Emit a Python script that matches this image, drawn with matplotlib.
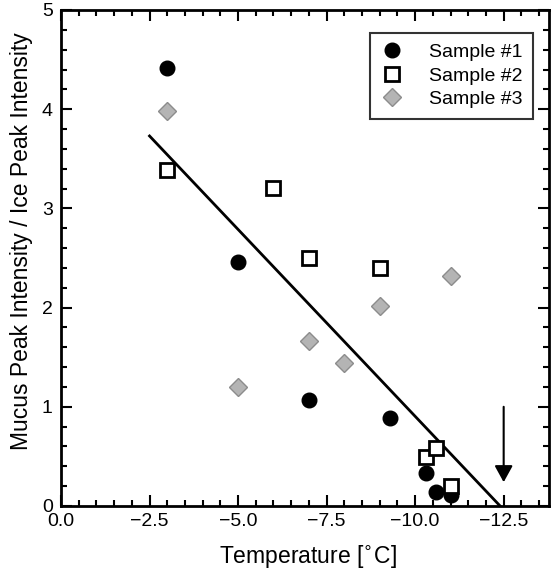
import numpy as np
import matplotlib
matplotlib.use("Agg")
import matplotlib.pyplot as plt
from matplotlib.ticker import MultipleLocator, FuncFormatter

plt.rcParams['font.family'] = ['Liberation Sans', 'DejaVu Sans']

# --- data ---
s1_temp = [-3.0, -5.0, -7.0, -9.3, -10.3, -10.6, -11.0]
s1_ratio = [4.42, 2.46, 1.07, 0.89, 0.33, 0.14, 0.11]

s2_temp = [-3.0, -6.0, -7.0, -9.0, -10.3, -10.6, -11.0]
s2_ratio = [3.39, 3.21, 2.50, 2.40, 0.49, 0.58, 0.20]

s3_temp = [-3.0, -5.0, -7.0, -8.0, -9.0, -11.0]
s3_ratio = [3.98, 1.20, 1.66, 1.44, 2.02, 2.32]

# linear fit line end points
fit_temp = [-2.5, -12.4]
fit_ratio = [3.73, 0.0]

# arrow marking the extrapolated temperature
arrow_temp = -12.5
arrow_from = 1.0
arrow_to = 0.24

W, H = 556, 574
fig = plt.figure(figsize=(W / 100, H / 100), dpi=100)
ax = fig.add_axes([61 / W, 68 / H, 488 / W, 496 / H])

ax.plot(fit_temp, fit_ratio, color='black', lw=2, zorder=2)

ax.plot(s1_temp, s1_ratio, 'o', ms=10.5, mfc='black', mec='black', ls='none',
        label='Sample #1', zorder=3)
ax.plot(s2_temp, s2_ratio, 's', ms=10, mfc='white', mec='black', mew=2, ls='none',
        label='Sample #2', zorder=3)
ax.plot(s3_temp, s3_ratio, 'D', ms=9.5, mfc='#b4b4b4', mec='#8c8c8c', mew=1, ls='none',
        label='Sample #3', zorder=3)

ax.annotate('', xy=(arrow_temp, arrow_to), xytext=(arrow_temp, arrow_from),
            arrowprops=dict(arrowstyle='-|>,head_length=1.0,head_width=0.55',
                            color='black', lw=1.5, shrinkA=0, shrinkB=0))

ax.set_xlim(0, -13.78)
ax.set_ylim(0, 5)

ax.xaxis.set_major_locator(MultipleLocator(2.5))
ax.xaxis.set_minor_locator(MultipleLocator(0.5))
ax.xaxis.set_major_formatter(FuncFormatter(lambda v, p: f'{v:.1f}'.replace('-', '\u2212')))
ax.yaxis.set_major_locator(MultipleLocator(1))
ax.yaxis.set_minor_locator(MultipleLocator(0.2))

ax.tick_params(which='both', direction='in', top=True, right=True, labelsize=14,
               width=1.5, colors='black')
ax.tick_params(which='major', length=8)
ax.tick_params(which='minor', length=4)
ax.tick_params(axis='x', pad=5)
ax.tick_params(axis='y', pad=6)
for sp in ax.spines.values():
    sp.set_linewidth(2)

fig.text(308 / W, 1 - 557 / H, 'Temperature [$^{\\circ}$C]', fontsize=16.5,
         ha='center', va='center')
fig.text(22 / W, 1 - 241 / H, 'Mucus Peak Intensity / Ice Peak Intensity',
         fontsize=16.5, rotation=90, ha='center', va='center')

leg = ax.legend(loc='upper right', bbox_to_anchor=((533 - 61) / 488, (506 - 33) / 496),
                fontsize=14, frameon=True, fancybox=False, edgecolor='black',
                borderaxespad=0, handlelength=1.2, handletextpad=1.3,
                labelspacing=0.3, borderpad=0.55)
leg.get_frame().set_linewidth(1.5)

fig.savefig('out.png', dpi=100)
